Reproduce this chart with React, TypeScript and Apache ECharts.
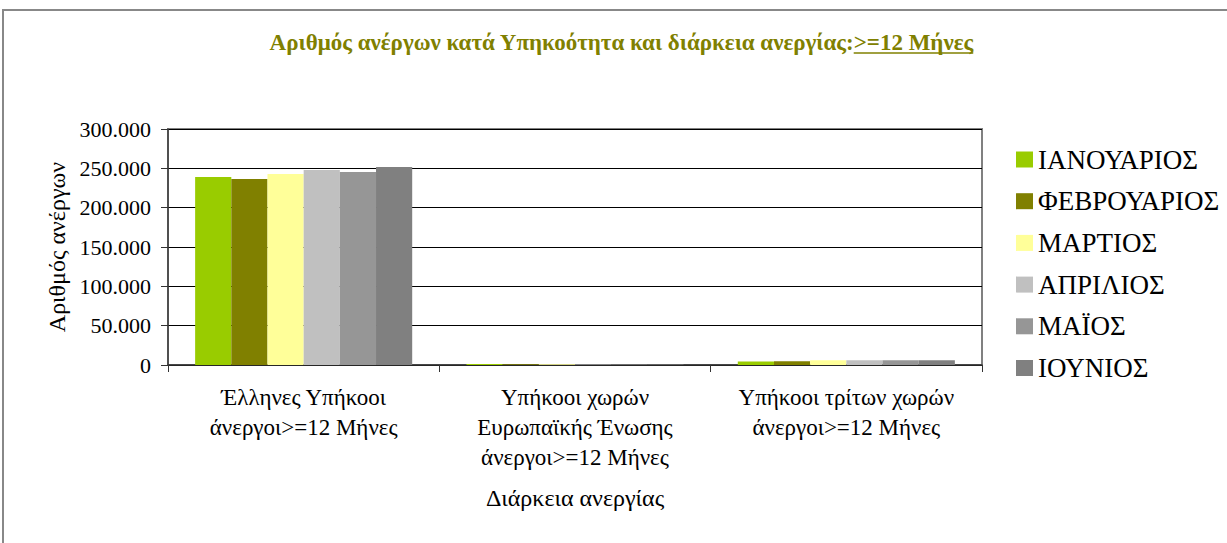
import React, { useEffect, useRef } from "react";
import * as echarts from "echarts";

const categories = [
  "Έλληνες Υπήκοοι\nάνεργοι>=12 Μήνες",
  "Υπήκοοι χωρών\nΕυρωπαϊκής Ένωσης\nάνεργοι>=12 Μήνες",
  "Υπήκοοι τρίτων χωρών\nάνεργοι>=12 Μήνες",
];
const months = ["ΙΑΝΟΥΑΡΙΟΣ", "ΦΕΒΡΟΥΑΡΙΟΣ", "ΜΑΡΤΙΟΣ", "ΑΠΡΙΛΙΟΣ", "ΜΑΪΟΣ", "ΙΟΥΝΙΟΣ"];
const colors = ["#99CC00", "#808000", "#FFFF99", "#C0C0C0", "#969696", "#808080"];
const ianouarios = [239000, 1200, 4600];
const fevrouarios = [236400, 1100, 4700];
const martios = [242800, 1000, 5900];
const aprilios = [247900, 700, 6000];
const maios = [245300, 600, 6000];
const iounios = [251700, 600, 6100];
const seriesValues = [ianouarios, fevrouarios, martios, aprilios, maios, iounios];
const yTicks = [0, 50000, 100000, 150000, 200000, 250000, 300000];

const titleMain = "Αριθμός ανέργων κατά Υπηκοότητα και διάρκεια ανεργίας:";
const titleUnder = ">=12 Μήνες";
const FONT = "Liberation Serif";

function fmt(v: number): string {
  return String(v).replace(/\B(?=(\d{3})+(?!\d))/g, ".");
}

export default function App() {
  const ref = useRef<HTMLDivElement>(null);
  useEffect(() => {
    if (!ref.current) return;
    const chart = echarts.init(ref.current, null, { renderer: "svg" });
    const titleSize = 23;
    const ctx = document.createElement("canvas").getContext("2d")!;
    ctx.font = `bold ${titleSize}px "${FONT}"`;
    const w1 = ctx.measureText(titleMain).width;
    const w2 = ctx.measureText(titleUnder).width;
    const cx = 621;
    const startX = cx - (w1 + w2) / 2;
    const splitX = startX + w1;
    const titleY = 42;
    const tStyle = {
      fontFamily: FONT,
      fontSize: titleSize,
      fontWeight: "bold",
      fill: "#808000",
      textVerticalAlign: "middle",
    };
    chart.setOption({
      animation: false,
      backgroundColor: "#ffffff",
      textStyle: { fontFamily: FONT },
      graphic: [
        {
          type: "rect",
          shape: { x: 3, y: 10, width: 1240, height: 560 },
          style: { fill: "none", stroke: "#888888", lineWidth: 2 },
          silent: true,
        },
        {
          type: "text",
          x: splitX,
          y: titleY,
          style: { ...tStyle, text: titleMain, textAlign: "right" },
        },
        {
          type: "text",
          x: splitX,
          y: titleY,
          style: { ...tStyle, text: titleUnder, textAlign: "left" },
        },
        {
          type: "line",
          shape: { x1: splitX, y1: titleY + 11, x2: splitX + w2, y2: titleY + 11 },
          style: { stroke: "#808000", lineWidth: 1.5 },
        },
      ],
      grid: {
        left: 168,
        right: 245,
        top: 129,
        bottom: 178,
        show: true,
        borderColor: "#808080",
        borderWidth: 2,
        backgroundColor: "transparent",
      },
      legend: {
        orient: "vertical",
        left: 1011,
        top: 141,
        itemWidth: 17,
        itemHeight: 16,
        itemGap: 14.7,
        icon: "rect",
        data: months,
        textStyle: { fontFamily: FONT, fontSize: 27, color: "#000", lineHeight: 27 },
      },
      xAxis: {
        type: "category",
        data: categories,
        name: "Διάρκεια ανεργίας",
        nameLocation: "middle",
        nameGap: 121,
        nameTextStyle: { fontFamily: FONT, fontSize: 24, color: "#000" },
        axisLine: { lineStyle: { color: "#333", width: 1.5 } },
        axisTick: { show: true, length: 7, lineStyle: { color: "#333" } },
        axisLabel: {
          fontFamily: FONT,
          fontSize: 23,
          color: "#000",
          lineHeight: 30,
          margin: 17,
          interval: 0,
        },
      },
      yAxis: {
        type: "value",
        min: 0,
        max: 300000,
        interval: 50000,
        name: "Αριθμός ανέργων",
        nameLocation: "middle",
        nameGap: 98,
        nameRotate: 90,
        nameTextStyle: { fontFamily: FONT, fontSize: 24, color: "#000" },
        axisLine: { show: true, lineStyle: { color: "#404040", width: 1.5 } },
        axisTick: { show: true, length: 7, lineStyle: { color: "#333" } },
        axisLabel: {
          fontFamily: FONT,
          fontSize: 22,
          color: "#000",
          margin: 17,
          formatter: (v: number) => (yTicks.includes(v) ? fmt(v) : ""),
        },
        splitLine: { show: true, lineStyle: { color: "#000", width: 1 } },
      },
      series: months.map((m, i) => ({
        name: m,
        type: "bar",
        data: seriesValues[i],
        barGap: "0%",
        barCategoryGap: "20%",
        itemStyle: { color: colors[i] },
      })),
    });
    return () => chart.dispose();
  }, []);
  return (
    <div
      ref={ref}
      style={{ position: "fixed", left: 0, top: 0, width: 1227, height: 543 }}
    />
  );
}
